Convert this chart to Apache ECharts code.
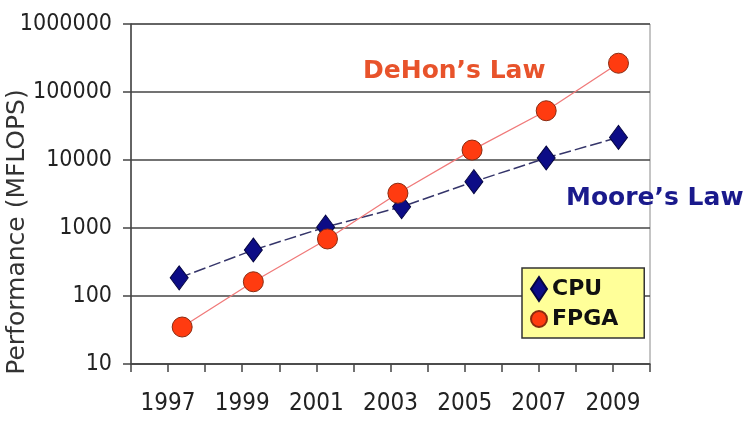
<!DOCTYPE html>
<html>
<head>
<meta charset="utf-8">
<title>CPU vs FPGA performance</title>
<script src="https://cdn.jsdelivr.net/npm/echarts@6/dist/echarts.min.js"></script>
<style>
  html, body { margin: 0; padding: 0; background: #fff; }
  #chart { width: 753px; height: 426px; }
</style>
</head>
<body>
<div id="chart"></div>
<script>
// years shown on the x axis
const yearLabels = ['1997', '1999', '2001', '2003', '2005', '2007', '2009']

// CPU (Moore's Law)
const cpuYears = [1997.3, 1999.3, 2001.25, 2003.3, 2005.25, 2007.2, 2009.15]
const cpuValues = [185, 475, 1030, 2050, 4800, 10700, 21500]

// FPGA (DeHon's Law)
const fpgaYears = [1997.38, 1999.3, 2001.3, 2003.2, 2005.2, 2007.2, 2009.15]
const fpgaValues = [35, 162, 690, 3250, 14000, 53000, 265000]

const labelFont = "'Liberation Sans Narrow', 'DejaVu Sans Condensed', 'Liberation Sans', sans-serif"
const boldFont = "'DejaVu Sans', Verdana, sans-serif"

const chart = echarts.init(document.getElementById('chart'))

chart.setOption({
  animation: false,
  backgroundColor: '#fff',
  grid: {
    left: 131,
    top: 24,
    right: 103,
    bottom: 62,
    outerBoundsMode: 'none',
    containLabel: false,
    show: true,
    borderColor: '#8a8a8a',
    borderWidth: 1
  },
  legend: {
    orient: 'vertical',
    left: 522,
    top: 268,
    padding: [8, 26, 8, 8],
    itemGap: 6,
    itemWidth: 16,
    itemHeight: 24,
    backgroundColor: '#ffff99',
    borderColor: '#333',
    borderWidth: 1.5,
    borderRadius: 0,
    textStyle: { fontFamily: boldFont, fontWeight: 'bold', fontSize: 22, color: '#111' },
    data: [
      { name: 'CPU', icon: 'diamond' },
      { name: 'FPGA', icon: 'circle' }
    ]
  },
  xAxis: {
    type: 'value',
    min: 1996,
    max: 2010,
    interval: 1,
    axisLine: { lineStyle: { color: '#444', width: 1.5 } },
    axisTick: { length: 8, lineStyle: { color: '#444', width: 1.5 } },
    splitLine: { show: false },
    axisLabel: {
      margin: 28,
      fontFamily: labelFont,
      fontSize: 24,
      color: '#222',
      formatter: function(v) {
        const s = String(v)
        return yearLabels.indexOf(s) >= 0 ? s : ''
      }
    }
  },
  yAxis: {
    type: 'log',
    logBase: 10,
    min: 10,
    max: 1000000,
    axisLine: { show: true, lineStyle: { color: '#444', width: 1.5 } },
    axisTick: { show: true, length: 8, lineStyle: { color: '#444', width: 1.5 } },
    splitLine: { lineStyle: { color: '#444', width: 1.5 } },
    axisLabel: {
      margin: 19,
      fontFamily: labelFont,
      fontSize: 23,
      color: '#222',
      formatter: function(v) {
        return String(Math.round(v))
      }
    }
  },
  series: [
    {
      name: 'CPU',
      type: 'line',
      data: cpuYears.map((y, i) => [y, cpuValues[i]]),
      symbol: 'diamond',
      symbolSize: [18, 24],
      itemStyle: { color: '#0c0c86', borderColor: '#050540', borderWidth: 1 },
      lineStyle: { color: '#35356a', width: 1.5, type: [12, 4] }
    },
    {
      name: 'FPGA',
      type: 'line',
      data: fpgaYears.map((y, i) => [y, fpgaValues[i]]),
      symbol: 'circle',
      symbolSize: 20,
      itemStyle: { color: '#ff3b10', borderColor: '#8a2a10', borderWidth: 1 },
      lineStyle: { color: '#f07a7a', width: 1.3 }
    }
  ],
  graphic: [
    {
      // y axis title
      type: 'text',
      x: 17,
      y: 232,
      rotation: Math.PI / 2,
      style: {
        text: 'Performance (MFLOPS)',
        fill: '#333',
        font: '25px ' + boldFont,
        align: 'center',
        verticalAlign: 'middle'
      }
    },
    {
      type: 'text',
      left: 363,
      top: 59,
      style: { text: 'DeHon\u2019s Law', fill: '#e8532b', font: 'bold 25px ' + boldFont }
    },
    {
      type: 'text',
      left: 566,
      top: 186,
      style: { text: 'Moore\u2019s Law', fill: '#1a1a8c', font: 'bold 25px ' + boldFont }
    }
  ]
})
</script>
</body>
</html>
